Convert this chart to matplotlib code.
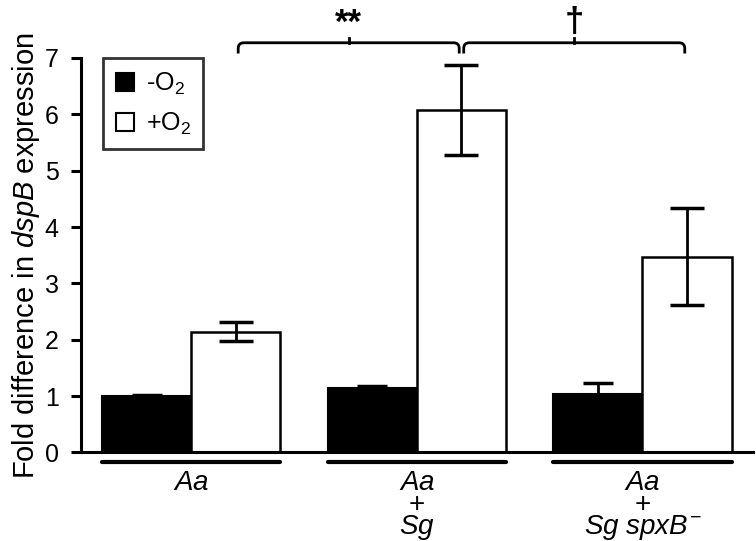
import matplotlib
matplotlib.use("Agg")
import matplotlib.pyplot as plt
from matplotlib.patches import Patch, PathPatch
from matplotlib.path import Path
import numpy as np

plt.rcParams['font.family'] = ['Liberation Sans', 'DejaVu Sans']
plt.rcParams['mathtext.fontset'] = 'custom'
plt.rcParams['mathtext.rm'] = 'Liberation Sans'
plt.rcParams['mathtext.it'] = 'Liberation Sans:italic'

# data
groups = ['Aa', 'Aa + Sg', 'Aa + Sg spxB-']
minus_o2 = [1.00, 1.14, 1.04]
minus_err = [0.02, 0.04, 0.20]
plus_o2 = [2.14, 6.08, 3.47]
plus_err = [0.17, 0.80, 0.86]
yticks = [0, 1, 2, 3, 4, 5, 6, 7]
group_labels = [r'$\mathit{Aa}$',
                r'$\mathit{Aa}$' + '\n+\n' + r'$\mathit{Sg}$',
                r'$\mathit{Aa}$' + '\n+\n' + r'$\mathit{Sg\ spxB}^{-}$']
sig_marks = ['**', '\u2020']

fig = plt.figure(figsize=(7.56, 5.41), dpi=100)
ax = fig.add_axes([0.107, 0.1636, 0.889, 0.7292])

x = np.arange(len(groups))
w = 0.395
ax.bar(x - w / 2, minus_o2, w, color='black', edgecolor='black', linewidth=1.5,
       yerr=minus_err, error_kw=dict(ecolor='black', elinewidth=2, capsize=11, capthick=2.5))
ax.bar(x + w / 2, plus_o2, w, color='white', edgecolor='black', linewidth=1.8,
       yerr=plus_err, error_kw=dict(ecolor='black', elinewidth=2, capsize=12, capthick=2.5))

ax.set_xlim(-0.49, 2.49)
ax.set_ylim(0, 7)
ax.set_yticks(yticks)
ax.set_xticks([])
for s in ['top', 'right']:
    ax.spines[s].set_visible(False)
ax.spines['left'].set_linewidth(2.2)
ax.spines['bottom'].set_linewidth(2.2)
ax.tick_params(axis='y', direction='out', length=7, width=2.2, labelsize=18, pad=9)
ax.set_ylabel(r'Fold difference in $\mathit{dspB}$ expression', fontsize=21, labelpad=2)

# group underlines and labels
for i, lab in enumerate(group_labels):
    ax.plot([i - w, i + w], [-0.17, -0.17], color='black', lw=3, clip_on=False,
            solid_capstyle='round')
    ax.text(i, -0.31, lab, ha='center', va='top', fontsize=20,
            linespacing=0.78, clip_on=False)

# significance brackets between +O2 bars, with rounded ends
by, bdrop = 7.27, 0.19
rx, ry = 0.025, 0.1
for k, mark in enumerate(sig_marks):
    x0 = x[k] + w / 2 + 0.01
    x1 = x[k + 1] + w / 2 - 0.01
    xm = (x0 + x1) / 2
    verts = [(x0, by - bdrop), (x0, by - ry), (x0, by), (x0 + rx, by),
             (x1 - rx, by), (x1, by), (x1, by - ry), (x1, by - bdrop)]
    codes = [Path.MOVETO, Path.LINETO, Path.CURVE3, Path.CURVE3,
             Path.LINETO, Path.CURVE3, Path.CURVE3, Path.LINETO]
    ax.add_patch(PathPatch(Path(verts, codes), facecolor='none', edgecolor='black',
                           lw=2, clip_on=False))
    ax.plot([xm, xm], [by, by + 0.09], color='black', lw=2, clip_on=False)
    ax.text(xm, by + 0.06, mark, ha='center', va='bottom', fontsize=25,
            fontweight='bold', clip_on=False)

handles = [Patch(facecolor='black', edgecolor='black', linewidth=1.5),
           Patch(facecolor='white', edgecolor='black', linewidth=1.5)]
leg = ax.legend(handles, ['-O$_2$', '+O$_2$'], loc='upper left', bbox_to_anchor=(0.033, 1.0),
                borderaxespad=0, fontsize=18, frameon=True, fancybox=False,
                handlelength=0.75, handleheight=0.75, handletextpad=0.45,
                labelspacing=0.55, borderpad=0.5)
leg.get_frame().set_edgecolor('black')
leg.get_frame().set_linewidth(2)

fig.savefig('out.png', dpi=100)
